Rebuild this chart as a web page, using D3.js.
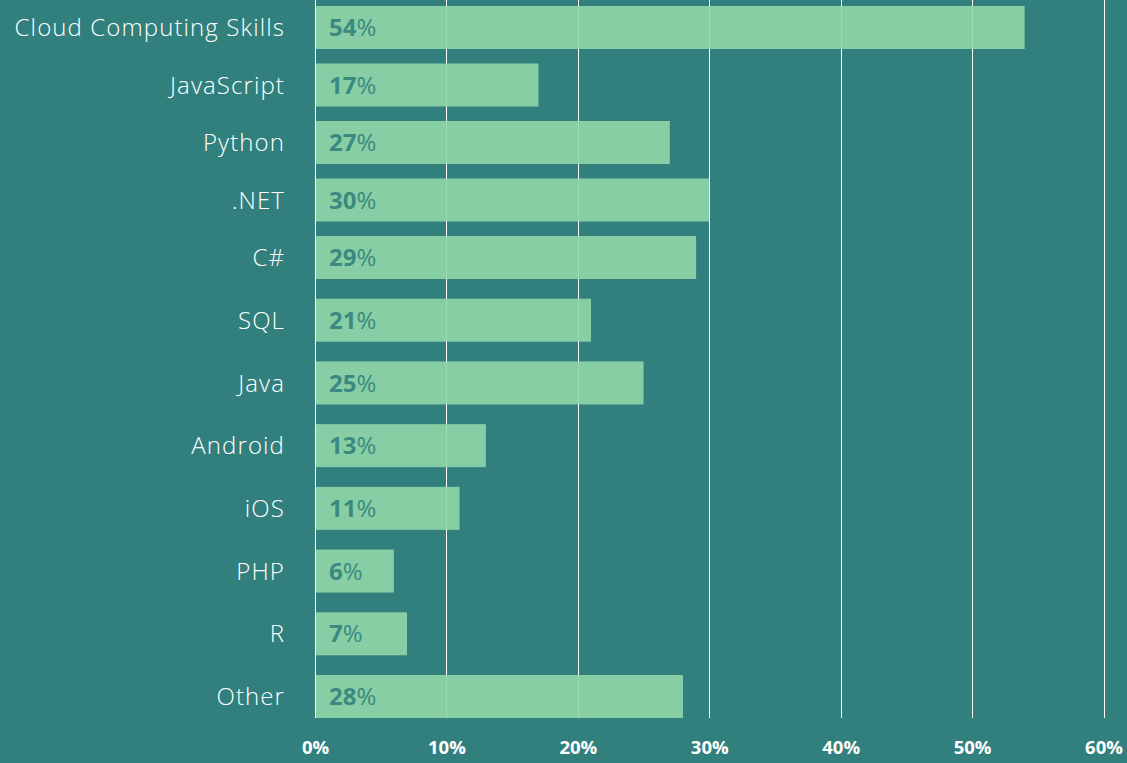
<!DOCTYPE html>
<html><head><meta charset="utf-8">
<script src="https://cdn.jsdelivr.net/npm/d3@7"></script>
<style>
html,body{margin:0;padding:0;background:#31807e;}
svg{display:block;}
</style></head><body>
<svg id="chart" width="1127" height="763"></svg>
<script>
const categories = ["Cloud Computing Skills","JavaScript","Python",".NET","C#","SQL","Java","Android","iOS","PHP","R","Other"];
const values = [54,17,27,30,29,21,25,13,11,6,7,28];
const ticks = [0,10,20,30,40,50,60];

const svg = d3.select("#chart");
const x = d3.scaleLinear().domain([0,60]).range([315,1103.5]);
// row index -> bar top (the original layout has slightly tighter spacing in the first rows)
const y = d3.scaleLinear().domain([0,4,categories.length-1]).range([6,236,675]);
const barH = 43;

const font = "'Open Sans', sans-serif";

// gridlines
svg.append("g").selectAll("line").data(ticks).join("line")
  .attr("x1",d=>Math.round(x(d))+0.5).attr("x2",d=>Math.round(x(d))+0.5)
  .attr("y1",0).attr("y2",718)
  .attr("stroke","#ffffff").attr("stroke-width",1);

// bars
svg.append("g").selectAll("rect").data(values).join("rect")
  .attr("x",x(0)+1).attr("y",(d,i)=>y(i))
  .attr("width",d=>x(d)-x(0)-1).attr("height",barH)
  .attr("fill","#91d6a8").attr("fill-opacity",0.9);

// value labels
const vl = svg.append("g").selectAll("text").data(values).join("text")
  .attr("x",329).attr("y",(d,i)=>y(i)+barH/2)
  .attr("dy","0.36em")
  .attr("font-family",font).attr("font-size",24).attr("fill","#3a8a82");
vl.append("tspan").attr("font-weight",700).text(d=>d);
vl.append("tspan").attr("font-weight",400).text("%");

// category labels
svg.append("g").selectAll("text").data(categories).join("text")
  .attr("x",285).attr("y",(d,i)=>y(i)+barH/2)
  .attr("dy","0.36em").attr("text-anchor","end")
  .attr("font-family",font).attr("font-size",24).attr("font-weight",300)
  .attr("letter-spacing",1.1)
  .attr("fill","#ffffff").text(d=>d);

// x axis labels
const xAxis = d3.axisBottom(x).tickValues(ticks).tickSize(0).tickPadding(0).tickFormat(d=>d+"%");
const gx = svg.append("g").attr("transform","translate(0,747)").call(xAxis);
gx.select(".domain").remove();
gx.selectAll("text").attr("font-family",font).attr("font-size",18.5).attr("font-weight",700)
  .attr("fill","#ffffff").attr("dy","0.36em");
</script>
</body></html>
